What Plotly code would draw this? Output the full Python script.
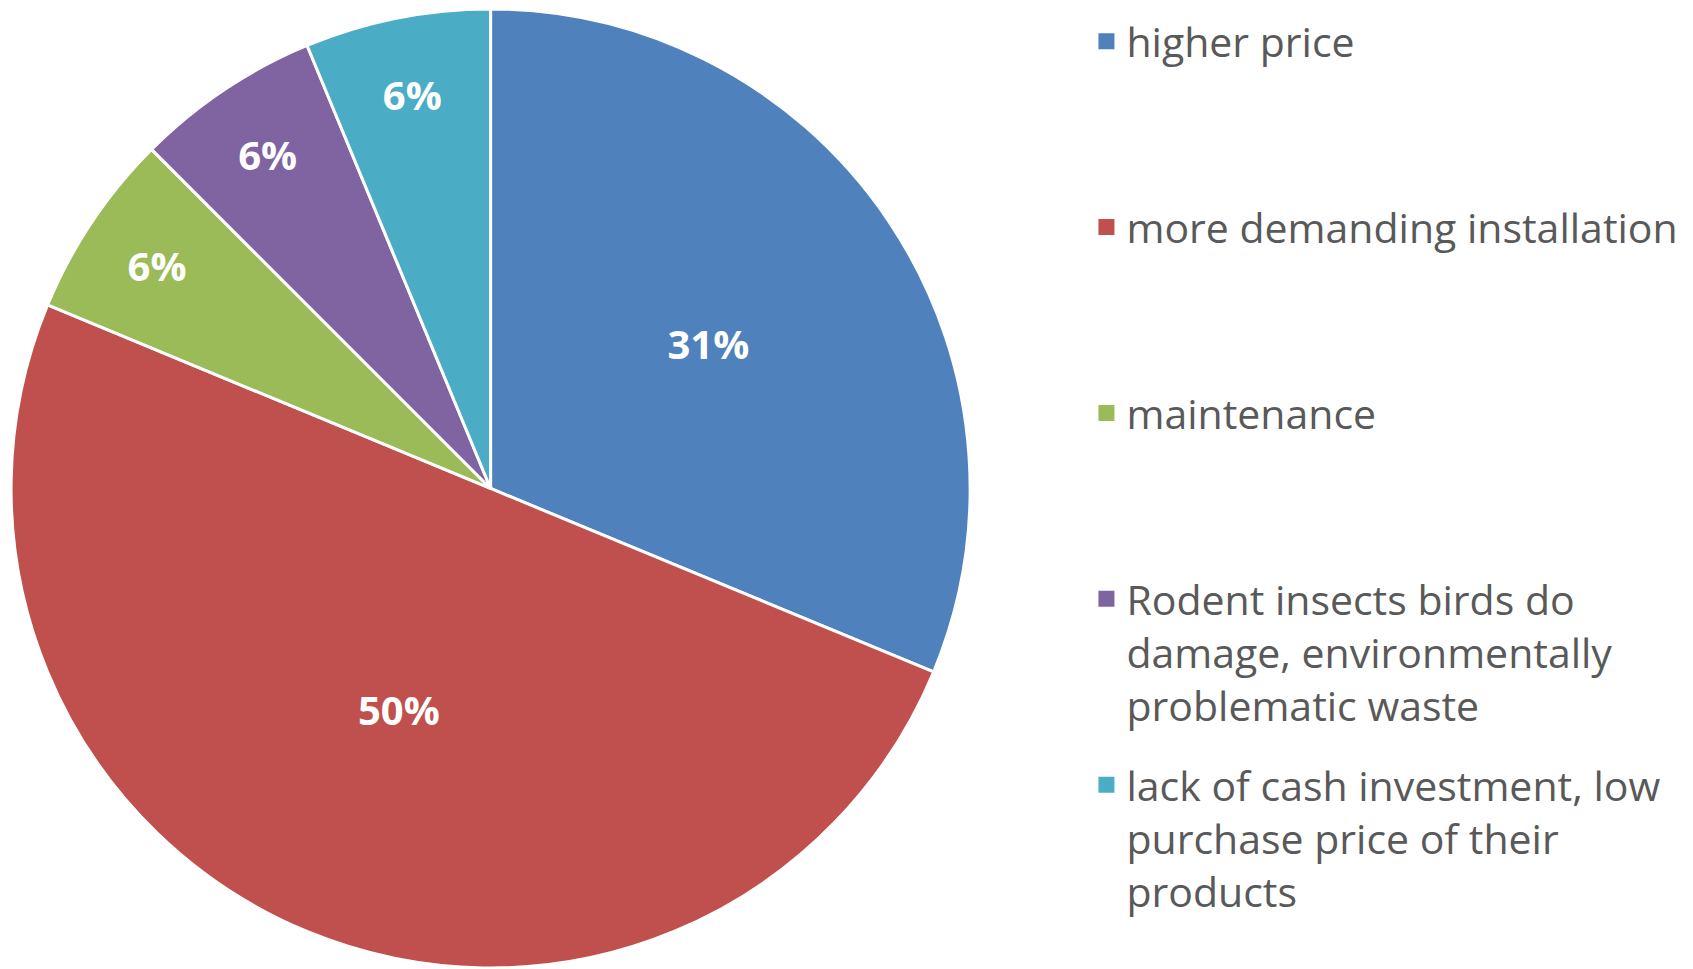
import plotly.graph_objects as go

# survey answers (counts out of 16 respondents)
categories = [
    "higher price",
    "more demanding installation",
    "maintenance",
    "Rodent insects birds do<br>damage, environmentally<br>problematic waste",
    "lack of cash investment, low<br>purchase price of their<br>products",
]
counts = [5, 8, 1, 1, 1]
colors = ["#4F81BD", "#C0504D", "#9BBB59", "#8064A2", "#4BACC6"]

fig = go.Figure()
fig.add_trace(
    go.Pie(
        labels=categories,
        values=counts,
        sort=False,
        direction="clockwise",
        rotation=0,
        marker=dict(colors=colors, line=dict(color="white", width=3)),
        texttemplate="%{percent:.0%}",
        textposition="inside",
        insidetextorientation="horizontal",
        textfont=dict(family="Open Sans", size=40, color="white", weight="bold"),
        hoverinfo="label+percent",
        showlegend=False,
        domain=dict(x=[0.0018, 0.5683], y=[0.0093, 0.999]),
    )
)

# legend entries: square swatches, every slot padded to three lines
for label, color in zip(categories, colors):
    n = label.count("<br>")
    fig.add_trace(
        go.Scatter(
            x=[None],
            y=[None],
            mode="markers",
            name=label + "<br> " * (2 - n),
            legendgroup=label,
            marker=dict(symbol="square", size=16, color=color),
            hoverinfo="skip",
        )
    )

fig.update_layout(
    width=1693,
    height=969,
    margin=dict(l=0, r=0, t=0, b=0),
    paper_bgcolor="white",
    plot_bgcolor="white",
    xaxis=dict(visible=False),
    yaxis=dict(visible=False),
    showlegend=True,
    legend=dict(
        x=0.637,
        y=1.0,
        xanchor="left",
        yanchor="top",
        valign="top",
        font=dict(family="Open Sans", size=41, color="#595959"),
        tracegroupgap=23,
        itemclick=False,
    ),
)

fig.write_html("out.html")
